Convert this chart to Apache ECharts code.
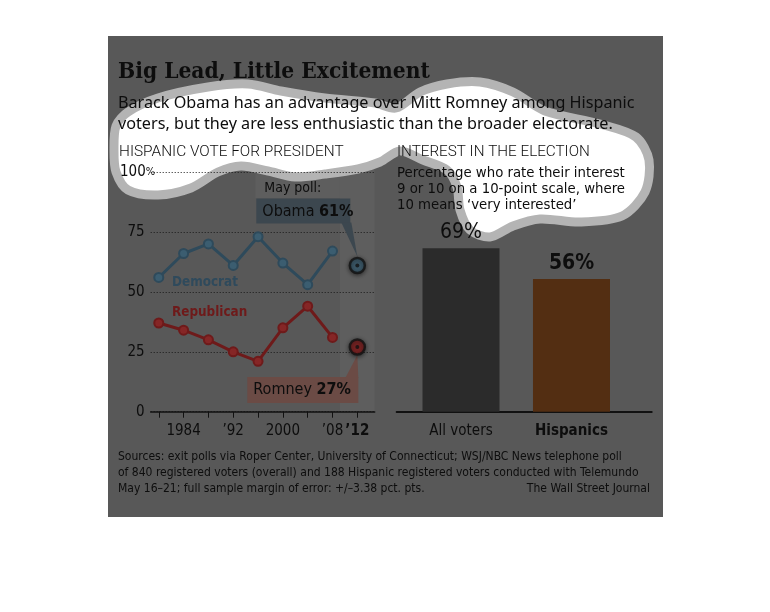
<!DOCTYPE html>
<html><head><meta charset="utf-8">
<script src="https://cdn.jsdelivr.net/npm/echarts@6/dist/echarts.min.js"></script>
<style>html,body{margin:0;padding:0;background:#fff}#c{width:770px;height:612px}</style>
</head><body><div id="c"></div>
<script>
// ---- data ----
const years = [1980, 1984, 1988, 1992, 1996, 2000, 2004, 2008];
const democrat = [56, 66, 70, 61, 73, 62, 53, 67];
const republican = [37, 34, 30, 25, 21, 35, 44, 31];
const pollYear = 2012;
const pollObama = 61;
const pollRomney = 27;
const xTickYears = [1980, 1984, 1988, 1992, 1996, 2000, 2004, 2008, 2012];
const xLabelYears = [1984, 1992, 2000, 2008, 2012];
const xLabelTexts = ['1984', '\u201992', '2000', '\u201908', '\u201912'];
const yTicks = [0, 25, 50, 75, 100];
const barCategories = ['All voters', 'Hispanics'];
const barValues = [69, 56];

// ---- styles ----
const SANS = '"Liberation Sans Narrow","DejaVu Sans Condensed","Noto Sans",sans-serif';
const BODY = '"Noto Sans","Open Sans",sans-serif';
const HEAD = 'Roboto,"Noto Sans",sans-serif';
const SERIF = '"DejaVu Serif Condensed","DejaVu Serif",serif';
const INK = '#0d0d0d';
const DEM = '#2e4a5b', REP = '#6e1a1a';

// font size that makes a text span a given width
const mctx = document.createElement('canvas').getContext('2d');
function fit(text, family, weight, target) {
  mctx.font = (weight || 'normal') + ' 100px ' + family;
  return 100 * target / mctx.measureText(text).width;
}

const chart = echarts.init(document.getElementById('c'));

const option = {
  backgroundColor: '#ffffff',
  animation: false,
  grid: [
    { left: 150.7, right: 770 - 374.7, top: 172, bottom: 612 - 411.7 },
    { left: 396.7, right: 770 - 651.7, top: 174.9, bottom: 612 - 411.7 }
  ],
  xAxis: [
    {
      gridIndex: 0, type: 'value', min: 1978.7, max: 2014.8,
      axisLine: { show: true, lineStyle: { color: '#111', width: 1.5 } },
      axisTick: { show: true, customValues: xTickYears, length: 6, lineStyle: { color: '#111', width: 1 } },
      axisLabel: {
        customValues: xLabelYears, margin: 12, fontSize: 15, color: INK, fontFamily: SANS,
        formatter: v => {
          const i = xLabelYears.indexOf(v);
          const t = i >= 0 ? xLabelTexts[i] : '';
          return v === pollYear ? '{b|' + t + '}' : t;
        },
        rich: { b: { fontWeight: 'bold', fontSize: 15, color: INK, fontFamily: SANS } }
      },
      splitLine: { show: false }
    },
    {
      gridIndex: 1, type: 'value', min: -0.582, max: 1.726,
      axisLine: { show: true, lineStyle: { color: '#111', width: 2 } },
      axisTick: { show: false },
      axisLabel: {
        customValues: [0, 1], margin: 12, fontSize: 15, color: INK, fontFamily: SANS,
        formatter: v => v === 1 ? '{b|' + barCategories[1] + '}' : barCategories[0],
        rich: { b: { fontWeight: 'bold', fontSize: 15, color: INK, fontFamily: SANS } }
      },
      splitLine: { show: false }
    }
  ],
  yAxis: [
    {
      gridIndex: 0, type: 'value', min: 0, max: 100, interval: 25,
      axisLine: { show: false }, axisTick: { show: false },
      axisLabel: { margin: 6, fontSize: 15, color: INK, fontFamily: SANS,
        formatter: v => v === 100 ? '' : String(v) },
      splitLine: { show: true, lineStyle: { color: '#1a1a1a', width: 1, type: [1, 2] } }
    },
    { gridIndex: 1, type: 'value', min: 0, max: 100, show: false }
  ],
  series: [
    {
      type: 'line', name: 'Democrat', xAxisIndex: 0, yAxisIndex: 0,
      data: years.map((y, i) => [y, democrat[i]]),
      symbol: 'circle', symbolSize: 9,
      lineStyle: { color: DEM, width: 3 },
      itemStyle: { color: '#3b5d70', borderColor: DEM, borderWidth: 2 }
    },
    {
      type: 'line', name: 'Republican', xAxisIndex: 0, yAxisIndex: 0,
      data: years.map((y, i) => [y, republican[i]]),
      symbol: 'circle', symbolSize: 9,
      lineStyle: { color: REP, width: 3 },
      itemStyle: { color: '#852626', borderColor: REP, borderWidth: 2 }
    },
    {
      type: 'scatter', xAxisIndex: 0, yAxisIndex: 0, z: 5,
      data: [
        { value: [pollYear, pollObama], itemStyle: { color: '#3f6377' } },
        { value: [pollYear, pollRomney], itemStyle: { color: '#8a1f1f' } }
      ],
      symbol: 'circle', symbolSize: 15,
      itemStyle: { borderColor: '#111', borderWidth: 2.5, shadowBlur: 4, shadowColor: 'rgba(0,0,0,0.6)', shadowOffsetY: 1 }
    },
    {
      type: 'scatter', xAxisIndex: 0, yAxisIndex: 0, z: 6,
      data: [[pollYear, pollObama], [pollYear, pollRomney]],
      symbol: 'circle', symbolSize: 4, itemStyle: { color: '#111' }
    },
    {
      type: 'bar', xAxisIndex: 1, yAxisIndex: 1, barWidth: 77,
      data: [
        { value: [0, barValues[0]], itemStyle: { color: '#2b2b2b' },
          label: { fontWeight: 'normal' } },
        { value: [1, barValues[1]], itemStyle: { color: '#532e12' },
          label: { fontWeight: 'bold' } }
      ],
      label: { show: true, position: 'top', distance: 5, fontSize: 21, color: INK, fontFamily: SANS,
        formatter: p => p.value[1] + '%' }
    }
  ]
};
chart.setOption(option);

// ---- decorations positioned from the data scales ----
const px = (x, y) => chart.convertToPixel({ gridIndex: 0 }, [x, y]);
const pO = px(pollYear, pollObama);
const pR = px(pollYear, pollRomney);
const colL = px(2009.2, 100);
const gridRight = px(2014.8, 0);
const txt = (x, y, text, size, extra) => Object.assign({
  type: 'text', x: x, y: y, z: 20,
  style: Object.assign({ text: text, fontSize: size, fontFamily: BODY, fill: INK, verticalAlign: 'middle', align: 'left' }, extra || {})
});

const titleText = 'Big Lead, Little Excitement';
const sub1 = 'Barack Obama has an advantage over Mitt Romney among Hispanic';
const sub2 = 'voters, but they are less enthusiastic than the broader electorate.';
const headL = 'HISPANIC VOTE FOR PRESIDENT';
const headR = 'INTEREST IN THE ELECTION';
const desc = ['Percentage who rate their interest', '9 or 10 on a 10-point scale, where', '10 means \u2018very interested\u2019'];
const src = ['Sources: exit polls via Roper Center, University of Connecticut; WSJ/NBC News telephone poll',
  'of 840 registered voters (overall) and 188 Hispanic registered voters conducted with Telemundo',
  'May 16\u201321; full sample margin of error: +/\u20133.38 pct. pts.'];

const fsTitle = Math.min(24, fit(titleText, SERIF, 'bold', 312));
const fsSub = fit(sub1, BODY, 'normal', 517);
const fsHeadL = fit(headL, HEAD, '300', 225);
const fsHeadR = fit(headR, HEAD, '300', 193);
const fsDesc = fit(desc[0], SANS, 'normal', 228);
const fsSrc = fit(src[1], SANS, 'normal', 521);
const fsDem = fit('Democrat', SANS, 'bold', 66);

const blob = [[114,150],[116,126],[128,112],[158,98],[208,87],[248,84],[281,91],[325,98],[375,103],[396,108],[420,92],[447,84],[480,82],[513,92],[545,111],[600,124],[636,137],[649,160],[645,192],[622,216],[580,222],[540,219],[513,226],[490,237],[470,230],[460,210],[457,187],[447,170],[423,160],[400,151],[380,162],[358,169],[325,174],[295,177],[268,171],[241,166],[218,172],[191,188],[158,195],[128,190],[116,172]];

const graphics = [
  { type: 'rect', z: -30, shape: { x: 108, y: 36, width: 555, height: 481 }, style: { fill: '#585858' } },
  // lighter column for the May poll
  { type: 'rect', z: -29, shape: { x: colL[0], y: colL[1] - 12, width: gridRight[0] - colL[0], height: gridRight[1] - colL[1] + 12 }, style: { fill: '#5e5e5e' } },
  { type: 'rect', z: -29, shape: { x: pO[0] - 102, y: colL[1] - 2, width: colL[0] - (pO[0] - 102), height: 28 }, style: { fill: '#5e5e5e' } },
  // white spotlight blob
  { type: 'polygon', z: -28, shape: { points: blob, smooth: 0.3 }, style: { fill: '#ffffff', stroke: '#b4b4b4', lineWidth: 9 } },
  // Obama callout
  { type: 'rect', z: 3, shape: { x: pO[0] - 101, y: pO[1] - 67, width: 94, height: 25 }, style: { fill: '#3c474f' } },
  { type: 'polygon', z: 3, shape: { points: [[pO[0] - 16, pO[1] - 43], [pO[0] - 6, pO[1] - 43], [pO[0], pO[1] - 9]] }, style: { fill: '#3c474f' } },
  // Romney callout
  { type: 'rect', z: 3, shape: { x: pR[0] - 110, y: pR[1] + 30, width: 111, height: 26 }, style: { fill: '#6b4b45' } },
  { type: 'polygon', z: 3, shape: { points: [[pR[0] - 12, pR[1] + 31], [pR[0] + 1, pR[1] + 31], [pR[0], pR[1] + 8]] }, style: { fill: '#6b4b45' } },
  // texts
  txt(118, 72, titleText, fsTitle, { fontFamily: SERIF, fontWeight: 'bold' }),
  txt(118, 103, sub1, fsSub),
  txt(118, 124, sub2, fsSub),
  txt(119, 152, headL, fsHeadL, { fontFamily: HEAD, fontWeight: 300 }),
  txt(397, 152, headR, fsHeadR, { fontFamily: HEAD, fontWeight: 300 }),
  txt(397, 173, desc[0], fsDesc, { fontFamily: SANS }),
  txt(397, 189, desc[1], fsDesc, { fontFamily: SANS }),
  txt(397, 205, desc[2], fsDesc, { fontFamily: SANS }),
  txt(120, 172, '{a|100}{p|%}', 15, { rich: { a: { fontSize: 15, fontFamily: SANS, fill: INK }, p: { fontSize: 11, fontFamily: SANS, fill: INK } } }),
  txt(pO[0] - 93, pO[1] - 77, 'May poll:', 14, { fontFamily: SANS }),
  txt(pO[0] - 95, pO[1] - 54, '{n|Obama }{b|' + pollObama + '%}', 16, { rich: { n: { fontSize: 16, fontFamily: SANS, fill: INK }, b: { fontSize: 16, fontFamily: SANS, fontWeight: 'bold', fill: INK } } }),
  txt(pR[0] - 104, pR[1] + 43, '{n|Romney }{b|' + pollRomney + '%}', 16, { rich: { n: { fontSize: 16, fontFamily: SANS, fill: INK }, b: { fontSize: 16, fontFamily: SANS, fontWeight: 'bold', fill: INK } } }),
  txt(172, 283, 'Democrat', fsDem, { fontFamily: SANS, fontWeight: 'bold', fill: '#2f4a5c' }),
  txt(172, 313, 'Republican', fsDem, { fontFamily: SANS, fontWeight: 'bold', fill: '#6e1a1a' }),
  txt(118, 457, src[0], fsSrc, { fontFamily: SANS }),
  txt(118, 473, src[1], fsSrc, { fontFamily: SANS }),
  txt(118, 489, src[2], fsSrc, { fontFamily: SANS }),
  txt(650, 489, 'The Wall Street Journal', fsSrc, { fontFamily: SANS, align: 'right' })
];
chart.setOption({ graphic: graphics });
</script></body></html>
